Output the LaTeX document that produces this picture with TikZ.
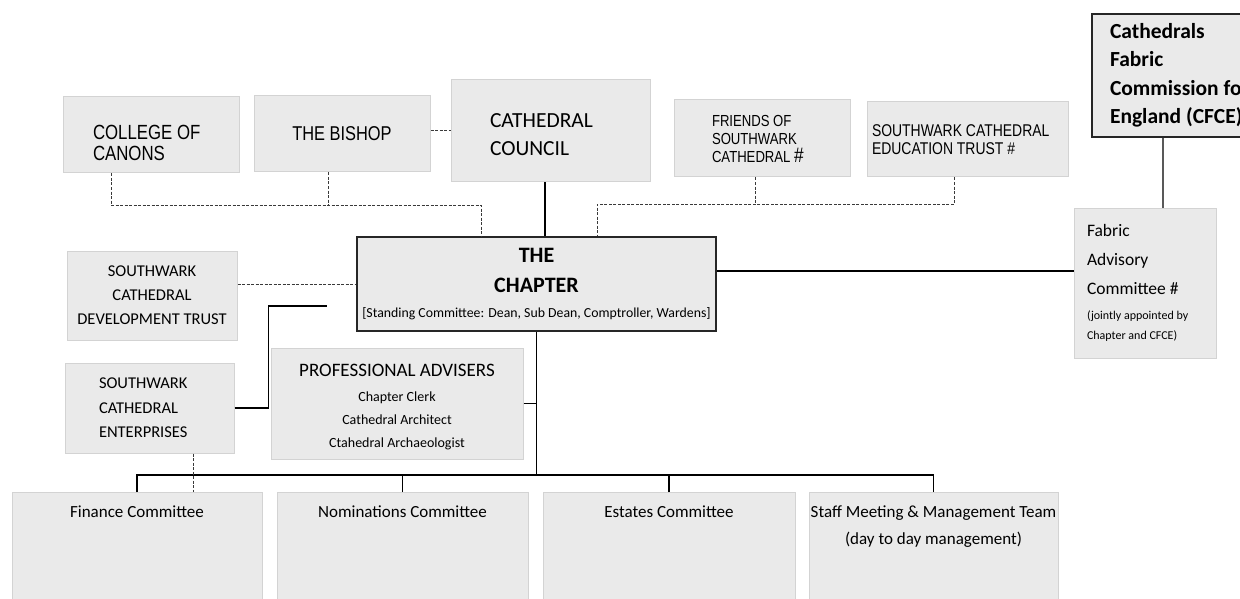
\documentclass[tikz,border=0pt]{standalone}
\usepackage{fontspec}
\setmainfont{Carlito}
\newfontfamily\narrowfont[FakeStretch=0.82]{Liberation Sans}
\usetikzlibrary{positioning}
\definecolor{boxfill}{HTML}{EAEAEA}
\definecolor{boxedge}{HTML}{D3D3D3}
\definecolor{dashgray}{HTML}{3A3A3A}
\newcommand{\fsz}[2]{\fontsize{#1}{#2}\selectfont}

\begin{document}
\begin{tikzpicture}[x=1pt, y=-1pt,
    box/.style={rectangle, fill=boxfill, draw=boxedge, line width=1pt, inner sep=0pt},
    mainbox/.style={box, draw=black!85, line width=1.5pt},
    indent/.style={align=flush left, execute at begin node={\leftskip=#1\relax}},
    lbl/.style={inner sep=0pt, align=center, font=\fsz{17}{27}},
    solidlink/.style={draw=black, line width=1.3pt},
    dashlink/.style={draw=dashgray, line width=1pt, dash pattern=on 3pt off 1.5pt}
]
\clip (0,0) rectangle (1240,599);

% top row
\node[box, minimum width=176pt, minimum height=76pt, text width=176pt, text height=31pt, indent=30pt, font=\narrowfont\fsz{20.5}{21}] (canons) at (151,135) {COLLEGE OF\\CANONS};
\node[box, minimum width=176pt, minimum height=76pt, font=\narrowfont\fsz{20}{24}] (bishop) at (342,134) {THE BISHOP};
\node[box, minimum width=199pt, minimum height=102pt, text width=199pt, text height=22pt, indent=39pt, font=\fsz{21.5}{28}] (council) at (550.5,131) {CATHEDRAL\\COUNCIL};
\node[box, minimum width=176pt, minimum height=77pt, text width=176pt, indent=38pt, font=\narrowfont\fsz{16}{18}] (friends) at (762,138.5) {FRIENDS OF\\SOUTHWARK\\CATHEDRAL {\fsz{21}{18}\#}};
\node[box, minimum width=201pt, minimum height=75pt, text width=201pt, indent=5pt, font=\narrowfont\fsz{17}{18}] (edutrust) at (967.5,139.5) {SOUTHWARK CATHEDRAL\\EDUCATION TRUST \#};
\node[mainbox, minimum width=210pt, minimum height=123pt, text width=210pt, indent=18pt, font=\bfseries\fsz{21.5}{28.5}] (cfce) at (1197,75.5) {Cathedrals\\Fabric\\Commission for\\England (CFCE)};

% middle
\node[mainbox, minimum width=359pt, minimum height=94pt, text width=359pt, align=flush center, font=\fsz{22}{30}] (chapter) at (536.5,284) {\textbf{THE}\\\textbf{CHAPTER}\\[-5pt]{\fsz{13.8}{25}[Standing Committee: Dean, Sub Dean, Comptroller, Wardens]}};
\node[box, minimum width=142pt, minimum height=150pt, text width=142pt, indent=13pt, font=\fsz{17.5}{29}] (fabric) at (1145,283) {Fabric\\Advisory\\Committee \#\\[-4pt]{\fsz{12}{20}(jointly appointed by}\\[-9pt]{\fsz{12}{20}Chapter and CFCE)}};
\node[box, minimum width=170pt, minimum height=89pt, text width=170pt, align=flush center, font=\fsz{16.5}{24}] (devtrust) at (152,295.5) {SOUTHWARK\\CATHEDRAL\\DEVELOPMENT TRUST};
\node[box, minimum width=169pt, minimum height=90pt, text width=169pt, indent=34pt, font=\fsz{16.5}{24.5}] (enterprises) at (149.5,408) {SOUTHWARK\\CATHEDRAL\\ENTERPRISES};
\node[box, minimum width=252pt, minimum height=111pt, text width=252pt, text height=19pt, align=flush center, font=\fsz{14}{23}] (advisers) at (397,403.5) {{\fsz{19}{23}PROFESSIONAL ADVISERS}\\[2pt]Chapter Clerk\\Cathedral Architect\\Ctahedral Archaeologist};

% committees
\node[box, minimum width=250pt, minimum height=130pt, anchor=north] (finance) at (137,492) {};
\node[box, minimum width=251pt, minimum height=130pt, anchor=north] (nominations) at (402.5,492) {};
\node[box, minimum width=252pt, minimum height=130pt, anchor=north] (estates) at (669,492) {};
\node[box, minimum width=249pt, minimum height=130pt, anchor=north] (staff) at (933.5,492) {};
\node[lbl, below=14pt of finance.north] (financetxt) {Finance Committee};
\node[lbl, below=14pt of nominations.north] (nominationstxt) {Nominations Committee};
\node[lbl, below=14pt of estates.north] (estatestxt) {Estates Committee};
\node[lbl, below=14pt of staff.north] (stafftxt) {Staff Meeting \& Management Team\\(day to day management)};

% links above the chapter
\coordinate (ljoin) at (481,205);
\coordinate (rjoin) at (597,204);
\draw[dashlink] ([xshift=-40pt]canons.south) |- (ljoin) -- (ljoin |- chapter.north);
\draw[dashlink] ([xshift=-14pt]bishop.south) -- ([xshift=-14pt]bishop.south |- ljoin);
\draw[dashlink] ([yshift=3pt]bishop.east) -- ([yshift=3pt]bishop.east -| council.west);
\draw[solidlink] ([xshift=-5.5pt]council.south) -- ([xshift=-5.5pt]council.south |- chapter.north);
\draw[dashlink] ([xshift=-13.5pt]edutrust.south) |- (rjoin) -- (rjoin |- chapter.north);
\draw[dashlink] ([xshift=-7pt]friends.south) -- ([xshift=-7pt]friends.south |- rjoin);

% side links
\coordinate (stub) at (327,306);
\draw[dashlink] ([yshift=11.5pt]devtrust.east) -- ([yshift=11.5pt]devtrust.east -| chapter.west);
\draw[solidlink] (enterprises.east) -- ++(34,0) |- (stub);
\draw[solidlink] ([yshift=13pt]chapter.east) -- ([yshift=13pt]chapter.east -| fabric.west);
\draw[solidlink, draw=black!65, line width=2pt] ([xshift=18pt]fabric.north) -- ([xshift=18pt]fabric.north |- cfce.south);

% links below the chapter
\coordinate (busl) at (137,475);
\coordinate (busr) at (933.5,475);
\draw[solidlink] (chapter.south) -- (chapter.south |- busl);
\draw[solidlink] (advisers.east) -- (advisers.east -| chapter.south);
\draw[solidlink] (finance.north) |- (busr) -- (staff.north);
\draw[solidlink] (nominations.north) -- (nominations.north |- busl);
\draw[solidlink] (estates.north) -- (estates.north |- busl);
\draw[dashlink] ([xshift=43.5pt]enterprises.south) -- ([xshift=43.5pt]enterprises.south |- finance.north);
\end{tikzpicture}
\end{document}
